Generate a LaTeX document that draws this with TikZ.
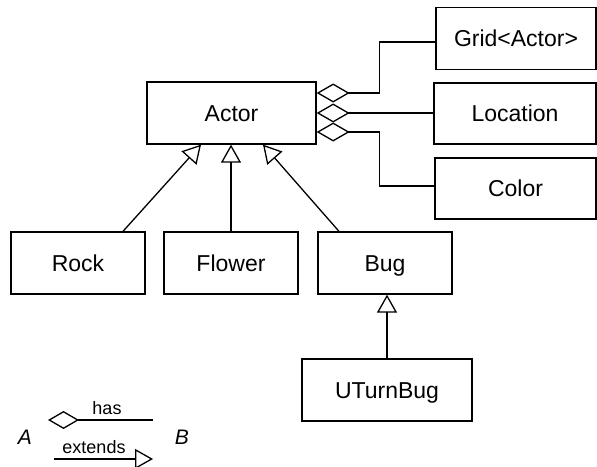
\documentclass[tikz,border=0pt]{standalone}
\usepackage{fontspec}
\setmainfont{Liberation Sans}
\usetikzlibrary{arrows.meta,calc}
\begin{document}
\begin{tikzpicture}[x=1pt,y=-1pt,
  box/.style={draw,line width=1.3pt,minimum height=62pt,inner sep=0pt,
    font=\fontsize{23}{27}\selectfont,text height=16.5pt,text depth=0pt},
  conn/.style={line width=1.3pt},
  hasrel/.style={conn,{Diamond[open,length=33pt,width=19pt,line width=1.3pt]}-},
  extrel/.style={conn,-{Triangle[open,length=18pt,width=20pt,line width=1.3pt]}},
  legtext/.style={font=\fontsize{18}{21}\selectfont,inner sep=0pt},
  legletter/.style={font=\fontsize{21}{25}\selectfont\itshape,inner sep=0pt}]
\useasboundingbox (0,0) rectangle (597,466);

\node[box,minimum width=169pt] (actor) at (231.5,113) {Actor};
\node[box,minimum width=160pt] (grid) at (516,38.5) {Grid<Actor>};
\node[box,minimum width=162pt,minimum height=61pt] (location) at (515,113.5) {Location};
\node[box,minimum width=161pt,minimum height=61pt] (color) at (515.5,188.5) {Color};
\node[box,minimum width=134pt] (rock) at (78,263) {Rock};
\node[box,minimum width=134pt] (flower) at (231,263) {Flower};
\node[box,minimum width=134pt] (bug) at (385,263) {Bug};
\node[box,minimum width=170pt] (uturn) at (387,390) {UTurnBug};

% aggregation
\draw[hasrel] ($(actor.east)+(0,-20)$) -- ++(63,0) |- ($(grid.west)+(0,3.5)$);
\draw[hasrel] (actor.east) -- (actor.east -| location.west);
\draw[hasrel] ($(actor.east)+(0,19)$) -- ++(63,0) |- ($(color.west)+(0,-2.5)$);

% inheritance
\draw[extrel] ($(rock.north)+(45,0)$) -- ($(actor.south)+(-30.5,0)$);
\draw[extrel] (flower.north) -- (flower.north |- actor.south);
\draw[extrel] ($(bug.north)+(-46,0)$) -- ($(actor.south)+(31.5,0)$);
\draw[extrel] (uturn.north) -- (uturn.north |- bug.south);

% legend
\node[legletter] (la) at (25,437) {A};
\node[legletter] (lb) at (182,437) {B};
\coordinate (hasS) at (48,420);
\coordinate (hasE) at (153,420);
\coordinate (extS) at (54,459);
\coordinate (extE) at (153,459);
\draw[conn,{Diamond[open,length=31pt,width=18pt,line width=1.3pt]}-] (hasS) -- (hasE);
\draw[extrel] (extS) -- (extE);
\node[legtext] (lhas) at (107,408) {has};
\node[legtext] (lext) at (94,447) {extends};
\end{tikzpicture}
\end{document}
